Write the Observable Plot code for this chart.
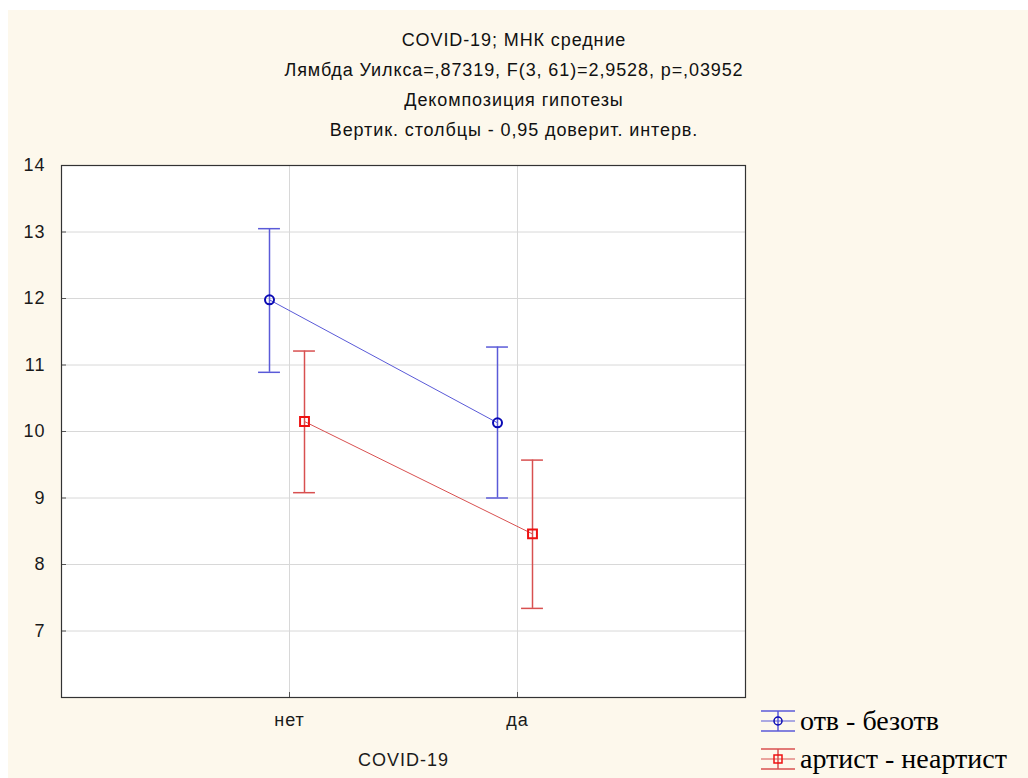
<!DOCTYPE html>
<html>
<head>
<meta charset="utf-8">
<script src="https://cdn.jsdelivr.net/npm/d3@7"></script>
<script src="https://cdn.jsdelivr.net/npm/@observablehq/plot@0.6"></script>
<style>
  html, body { margin: 0; padding: 0; background: #ffffff; width: 1028px; height: 778px; overflow: hidden; }
  #bg { position: absolute; left: 8px; top: 10px; right: 0; bottom: 0; background: #fdf8ec; }
  #title { position: absolute; left: 8px; width: 1012px; top: 25px; text-align: center;
           font-family: "Liberation Sans", Arial, sans-serif; font-size: 18px; letter-spacing: 0.9px;
           line-height: 30px; color: #111; }
  #chart { position: absolute; left: 0; top: 145px; }
  #chart text { letter-spacing: 1px; fill: #1a1a1a; }
  #legend { position: absolute; left: 760px; top: 702px; font-family: "Liberation Serif", "Times New Roman", serif;
            font-size: 28px; color: #000; }
  #legend .row { display: flex; align-items: center; height: 38px; }
  #legend svg { margin-right: 4px; }
</style>
</head>
<body>
<div id="bg"></div>
<div id="title">
  <div>COVID-19; МНК средние</div>
  <div>Лямбда Уилкса=,87319, F(3, 61)=2,9528, p=,03952</div>
  <div>Декомпозиция гипотезы</div>
  <div>Вертик. столбцы - 0,95 доверит. интерв.</div>
</div>
<div id="chart"></div>
<div id="legend"></div>
<script>
// ---- data ----
const categories = ["нет", "да"];
const seriesNames = ["отв - безотв", "артист - неартист"];
const blueMean = [11.98, 10.13];
const blueLow  = [10.89, 9.00];
const blueHigh = [13.05, 11.27];
const redMean  = [10.15, 8.46];
const redLow   = [9.08, 7.34];
const redHigh  = [11.21, 9.57];
const yTicks = [7, 8, 9, 10, 11, 12, 13, 14];
const xTicks = [1, 2];

const blue = categories.map((c, i) => ({cat: c, x: i + 1, mean: blueMean[i], lo: blueLow[i], hi: blueHigh[i]}));
const red  = categories.map((c, i) => ({cat: c, x: i + 1, mean: redMean[i], lo: redLow[i], hi: redHigh[i]}));

const cap = 0.048; // half cap width in x units
const blueLine = "#5a5ad8", blueMark = "#0a0ab4";
const redLine = "#d85050", redMark = "#ee1111";

function errorMarks(data, dx, lineColor, markColor, symbol, r) {
  return [
    Plot.line(data, {x: "x", y: "mean", dx, stroke: lineColor, strokeWidth: 1}),
    Plot.ruleX(data, {x: "x", y1: "lo", y2: "hi", dx, stroke: lineColor, strokeWidth: 1.5}),
    Plot.ruleY(data, {y: "hi", x1: d => d.x - cap, x2: d => d.x + cap, dx, stroke: lineColor, strokeWidth: 1.5}),
    Plot.ruleY(data, {y: "lo", x1: d => d.x - cap, x2: d => d.x + cap, dx, stroke: lineColor, strokeWidth: 1.5}),
    Plot.dot(data, {x: "x", y: "mean", dx, symbol, r, stroke: markColor, strokeWidth: 2, fill: "none"})
  ];
}

const chart = Plot.plot({
  width: 1028,
  height: 633,
  marginLeft: 61,
  marginRight: 283,
  marginTop: 20,
  marginBottom: 81,
  style: {background: "transparent", fontFamily: "Liberation Sans, Arial, sans-serif", fontSize: "18px", color: "#111"},
  x: {domain: [0, 3]},
  y: {domain: [6, 14]},
  marks: [
    Plot.frame({fill: "white", stroke: null}),
    Plot.gridY(yTicks.filter(t => t < 14), {stroke: "#d8d8d8", strokeOpacity: 1, strokeWidth: 1}),
    Plot.gridX(xTicks, {stroke: "#d8d8d8", strokeOpacity: 1, strokeWidth: 1}),
    Plot.axisY(yTicks, {anchor: "left", tickSize: 5, dx: 5, tickPadding: 16, tickFormat: d => String(d),
      label: null, stroke: "#555", fontSize: 18}),
    Plot.axisX(xTicks, {anchor: "bottom", tickSize: 5, dy: -5, tickPadding: 16, tickFormat: d => categories[d - 1],
      label: "COVID-19", labelAnchor: "center", labelOffset: 68, labelArrow: "none", stroke: "#555", fontSize: 18}),
    ...errorMarks(blue, -20, blueLine, blueMark, "circle", 4.5),
    ...errorMarks(red, 15, redLine, redMark, "square", 5),
    Plot.frame({stroke: "#333", strokeWidth: 1.2})
  ]
});
document.getElementById("chart").appendChild(chart);

// legend
const legend = document.getElementById("legend");
const legendColors = [[blueLine, blueMark, "circle"], [redLine, redMark, "square"]];
seriesNames.forEach((name, i) => {
  const [lc, mc, sym] = legendColors[i];
  const marker = sym === "circle"
    ? `<circle cx="18" cy="11" r="4" fill="none" stroke="${mc}" stroke-width="1.5"/>`
    : `<rect x="14" y="7" width="8" height="8" fill="none" stroke="${mc}" stroke-width="1.5"/>`;
  const row = document.createElement("div");
  row.className = "row";
  row.innerHTML = `<svg width="36" height="22">
      <line x1="1" x2="35" y1="1" y2="1" stroke="${lc}" stroke-width="1.5"/>
      <line x1="1" x2="35" y1="21" y2="21" stroke="${lc}" stroke-width="1.5"/>
      <line x1="1" x2="35" y1="11" y2="11" stroke="${lc}" stroke-width="1.2"/>
      <line x1="18" x2="18" y1="1" y2="21" stroke="${lc}" stroke-width="1.5"/>
      ${marker}</svg><span>${name}</span>`;
  legend.appendChild(row);
});
</script>
</body>
</html>
